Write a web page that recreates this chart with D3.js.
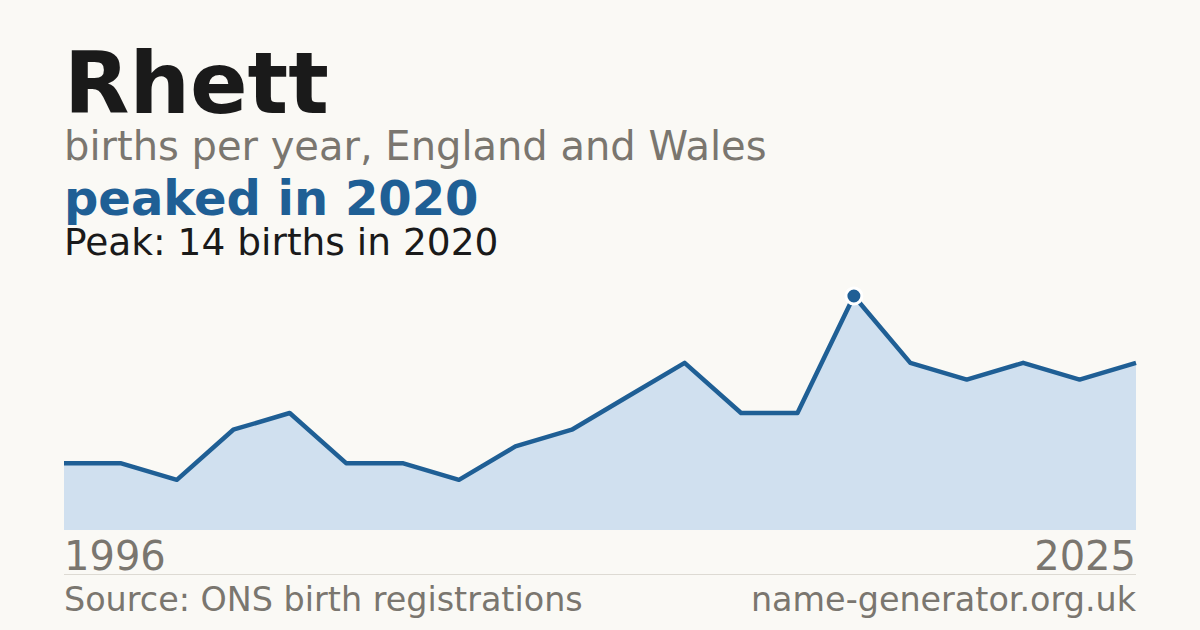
<!DOCTYPE html>
<html>
<head>
<meta charset="utf-8">
<script src="https://cdn.jsdelivr.net/npm/d3@7"></script>
<style>
  body { margin: 0; background: #faf9f5; }
  svg { display: block; font-family: "DejaVu Sans", sans-serif; }
</style>
</head>
<body>
<svg width="1200" height="630"></svg>
<script>
var years = [1996, 1997, 1998, 1999, 2000, 2001, 2002, 2003, 2004, 2005,
             2006, 2007, 2008, 2009, 2020, 2021, 2022, 2023, 2024, 2025];
var births = [4, 4, 3, 6, 7, 4, 4, 3, 5, 6, 8, 10, 7, 7, 14, 10, 9, 10, 9, 10];
var axisLabels = ["1996", "2025"];
var peakYear = 2020, peakValue = 14;

var svgWidth = 1200, svgHeight = 630;
var plotLeft = 64, plotRight = 1136, plotTop = 296, plotBottom = 530;

var svg = d3.select('svg').attr('width', svgWidth).attr('height', svgHeight);

svg.append('rect').attr('width', svgWidth).attr('height', svgHeight).attr('fill', '#faf9f5');

// header text
svg.append('text').attr('x', 64).attr('y', 113)
    .attr('font-size', 85).attr('font-weight', 'bold').attr('fill', '#1a1a1a')
    .text('Rhett');
svg.append('text').attr('x', 64).attr('y', 160)
    .attr('font-size', 40).attr('fill', '#7a766f')
    .text('births per year, England and Wales');
svg.append('text').attr('x', 64).attr('y', 215)
    .attr('font-size', 48).attr('font-weight', 'bold').attr('fill', '#1f5f95')
    .text('peaked in ' + peakYear);
svg.append('text').attr('x', 64).attr('y', 255)
    .attr('font-size', 37.5).attr('fill', '#1a1a1a')
    .text('Peak: ' + peakValue + ' births in ' + peakYear);

var xScale = d3.scaleLinear().domain([0, births.length - 1]).range([plotLeft, plotRight]);
var yScale = d3.scaleLinear().domain([0, d3.max(births)]).range([plotBottom, plotTop]);

var area = d3.area()
    .x(function (d, i) { return xScale(i); })
    .y0(plotBottom)
    .y1(function (d) { return yScale(d); });

var line = d3.line()
    .x(function (d, i) { return xScale(i); })
    .y(function (d) { return yScale(d); });

svg.append('path').datum(births)
    .attr('d', area)
    .attr('fill', '#d0e0ef');

svg.append('path').datum(births)
    .attr('d', line)
    .attr('fill', 'none')
    .attr('stroke', '#1f5f95')
    .attr('stroke-width', 4.5)
    .attr('stroke-linejoin', 'round');

var peakIndex = births.indexOf(d3.max(births));
svg.append('circle')
    .attr('cx', xScale(peakIndex))
    .attr('cy', yScale(births[peakIndex]))
    .attr('r', 8)
    .attr('fill', '#1f5f95')
    .attr('stroke', '#ffffff')
    .attr('stroke-width', 3);

// axis labels
svg.append('text').attr('x', plotLeft).attr('y', 570)
    .attr('font-size', 40).attr('fill', '#7a766f')
    .text(axisLabels[0]);
svg.append('text').attr('x', plotRight).attr('y', 570)
    .attr('font-size', 40).attr('fill', '#7a766f').attr('text-anchor', 'end')
    .text(axisLabels[1]);

svg.append('line')
    .attr('x1', plotLeft).attr('x2', plotRight).attr('y1', 574.5).attr('y2', 574.5)
    .attr('stroke', '#dddad3').attr('stroke-width', 1);

svg.append('text').attr('x', plotLeft).attr('y', 611)
    .attr('font-size', 33.4).attr('fill', '#7a766f')
    .text('Source: ONS birth registrations');
svg.append('text').attr('x', plotRight).attr('y', 611)
    .attr('font-size', 33.4).attr('fill', '#7a766f').attr('text-anchor', 'end')
    .text('name-generator.org.uk');
</script>
</body>
</html>
